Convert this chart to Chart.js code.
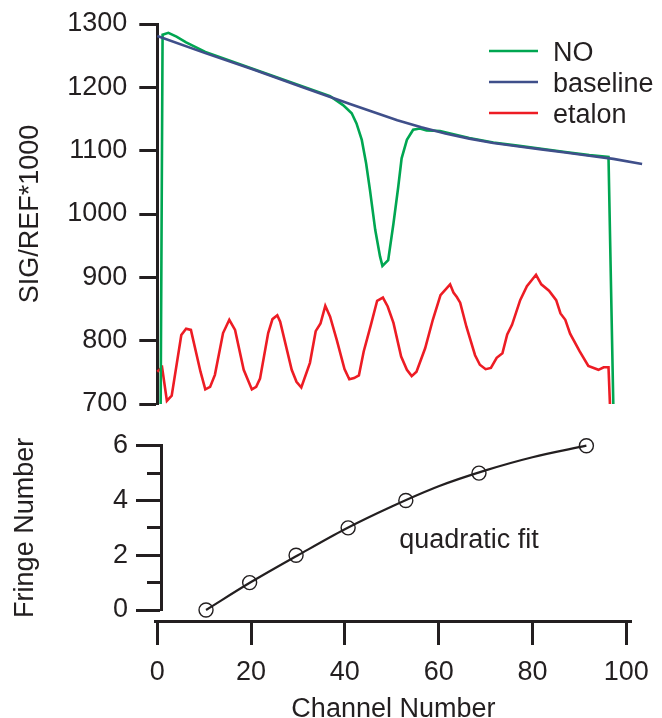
<!DOCTYPE html>
<html>
<head>
<meta charset="utf-8">
<script src="https://cdn.jsdelivr.net/npm/chart.js@4.4.1/dist/chart.umd.min.js"></script>
<style>
  html, body { margin: 0; padding: 0; background: #fff; }
  #wrap { position: relative; width: 662px; height: 718px; }
  #topChart { position: absolute; left: 0; top: 0; }
  #bottomChart { position: absolute; left: 0; top: 420px; }
</style>
</head>
<body>
<div id="wrap">
  <canvas id="topChart" width="662" height="420"></canvas>
  <canvas id="bottomChart" width="662" height="298"></canvas>
</div>
<script>
// upper panel: signal / reference ratio
const noChannel = [0.7, 1.1, 2.3, 4, 6, 10, 20, 30, 36, 38.7, 40.5, 41.5, 42.6, 43.5, 44.3, 45.4, 46.4, 46.9, 48.1, 49.2, 50.2, 50.9, 52, 53.3, 54.7, 56.1, 58.9, 65, 70, 75, 80, 85, 90, 94, 95];
const noSignal = [700, 1283, 1286, 1280, 1271, 1256, 1229, 1202, 1186, 1172, 1159, 1143, 1117, 1080, 1038, 975, 933, 918, 927, 985, 1043, 1088, 1117, 1133, 1135, 1132, 1131, 1120, 1113, 1108, 1103, 1098, 1093, 1090, 700];

const baseChannel = [0, 10, 20, 30, 40, 45, 50, 55, 60, 65, 70, 75, 80, 85, 90, 95, 101];
const baseSignal = [1281, 1254, 1228, 1201, 1174, 1161, 1148, 1137, 1127, 1119, 1112, 1107, 1102, 1097, 1092, 1087, 1079];

const etalonChannel = [0, 1, 2, 3, 5, 6, 7, 9, 10, 11, 12, 13.7, 15, 16.2, 18, 19.7, 20.6, 21.4, 23.1, 24, 25, 25.6, 28, 29, 30, 31.8, 33, 34, 35, 36, 37.4, 39, 40, 41, 42, 43, 44.5, 45.8, 47, 48, 49.2, 50.8, 52, 53, 54, 55.8, 57.4, 59, 61, 61.7, 62.4, 63.1, 64.4, 66.2, 67.2, 68.4, 69.5, 70.7, 71.9, 72.9, 73.9, 75.6, 77, 78.9, 80, 81.6, 83.1, 84, 85, 86, 88, 89.8, 91.9, 93, 94, 94.3];
const etalonSignal = [751, 758, 705, 713, 809, 819, 817, 751, 723, 727, 746, 812, 833, 817, 754, 723, 727, 740, 812, 834, 840, 830, 754, 735, 726, 765, 815, 827, 855, 838, 801, 755, 739, 741, 745, 783, 825, 863, 868, 854, 828, 775, 754, 744, 751, 788, 833, 872, 889, 876, 869, 860, 822, 777, 762, 755, 757, 773, 780, 810, 825, 864, 886, 904, 889, 879, 864, 843, 833, 811, 783, 760, 754, 758, 758, 700];

const sigTicks = [700, 800, 900, 1000, 1100, 1200, 1300];

// lower panel: fringe positions and the fit
const fringeChannel = [10.4, 19.7, 29.6, 40.7, 53.0, 68.6, 91.5];
const fringeNumber = [0, 1, 2, 3, 4, 5, 6];
const fitChannel = [10.4, 20, 30, 40, 50, 60, 70, 80, 91.5];
const fitNumber = [0, 1.02, 2.0, 2.95, 3.78, 4.52, 5.1, 5.58, 6.0];

const channelTicks = [0, 20, 40, 60, 80, 100];
const fringeTicks = [0, 2, 4, 6];
const fringeMinorTicks = [1, 3, 5];

const ink = '#231f20';
const fontFamily = "'Liberation Sans', Arial, sans-serif";
const font = { family: fontFamily, size: 27 };
Chart.defaults.font.family = fontFamily;
Chart.defaults.color = ink;

const toPoints = (xs, ys) => xs.map((x, i) => ({ x: x, y: ys[i] }));
const fixTicks = (values) => (scale) => { scale.ticks = values.map(v => ({ value: v })); };
const plain = (v) => String(v);

// legend in the upper right corner
const sideLegend = {
  id: 'sideLegend',
  afterDatasetsDraw(chart) {
    const ctx = chart.ctx;
    ctx.save();
    ctx.font = '27px ' + fontFamily;
    ctx.fillStyle = ink;
    ctx.textBaseline = 'alphabetic';
    chart.data.datasets.forEach((ds, i) => {
      const y = 51 + i * 31;
      ctx.strokeStyle = ds.borderColor;
      ctx.lineWidth = 2.6;
      ctx.beginPath();
      ctx.moveTo(489, y);
      ctx.lineTo(538, y);
      ctx.stroke();
      ctx.fillText(ds.label, 553, y + 10);
    });
    ctx.restore();
  }
};

new Chart(document.getElementById('topChart'), {
  type: 'line',
  data: {
    datasets: [
      { label: 'NO', data: toPoints(noChannel, noSignal), borderColor: '#00a651', order: 1, clip: false },
      { label: 'baseline', data: toPoints(baseChannel, baseSignal), borderColor: '#3f4f8a', order: 0, clip: false },
      { label: 'etalon', data: toPoints(etalonChannel, etalonSignal), borderColor: '#ed1c24', order: 2, clip: false }
    ]
  },
  options: {
    responsive: false,
    animation: false,
    devicePixelRatio: 1,
    layout: { padding: { top: 24, bottom: 16, left: 0, right: 19.9 } },
    elements: {
      point: { radius: 0 },
      line: { tension: 0, borderWidth: 2.6, fill: false }
    },
    plugins: { legend: { display: false }, tooltip: { enabled: false } },
    scales: {
      x: { type: 'linear', display: false, min: 0, max: 101 },
      y: {
        type: 'linear',
        position: 'left',
        min: 700,
        max: 1300,
        afterBuildTicks: fixTicks(sigTicks),
        afterFit: (s) => { s.width = 157.3; s.paddingTop = 0; s.paddingBottom = 0; },
        grid: { drawOnChartArea: false, tickLength: 18, tickWidth: 3, tickColor: ink },
        border: { width: 3, color: ink },
        ticks: { padding: 12, font: font, color: ink, callback: plain },
        title: { display: true, text: 'SIG/REF*1000', font: font, color: ink, padding: { top: 14, bottom: 0 } }
      }
    }
  },
  plugins: [sideLegend]
});

// "quadratic fit" note, placed in data units
const fitNote = {
  id: 'fitNote',
  afterDraw(chart) {
    const ctx = chart.ctx;
    const x = chart.scales.x.getPixelForValue(51.6);
    const y = chart.scales.y.getPixelForValue(2.26);
    ctx.save();
    ctx.font = '27px ' + fontFamily;
    ctx.fillStyle = ink;
    ctx.textBaseline = 'alphabetic';
    ctx.fillText('quadratic fit', x, y);
    ctx.restore();
  }
};

new Chart(document.getElementById('bottomChart'), {
  type: 'line',
  data: {
    datasets: [
      {
        label: 'fringes',
        data: toPoints(fringeChannel, fringeNumber),
        showLine: false,
        pointRadius: 7,
        pointBorderWidth: 1.4,
        pointBorderColor: ink,
        pointBackgroundColor: 'rgba(0,0,0,0)',
        clip: false,
        order: 0
      },
      {
        label: 'quadratic fit',
        data: toPoints(fitChannel, fitNumber),
        borderColor: ink,
        borderWidth: 2.2,
        pointRadius: 0,
        cubicInterpolationMode: 'monotone',
        clip: false,
        order: 1
      }
    ]
  },
  options: {
    responsive: false,
    animation: false,
    devicePixelRatio: 1,
    layout: { padding: { top: 25.7, bottom: 108, left: 0, right: 19 } },
    plugins: { legend: { display: false }, tooltip: { enabled: false } },
    scales: {
      x: {
        type: 'linear',
        min: -0.479,
        max: 101.19,
        position: { y: -0.43 },
        afterBuildTicks: fixTicks(channelTicks),
        grid: { drawOnChartArea: false, tickLength: 22, tickWidth: 3, tickColor: ink },
        border: { width: 3, color: ink },
        ticks: { padding: 13, font: font, color: ink, maxRotation: 0, callback: plain },
        title: { display: true, text: 'Channel Number', font: font, color: ink, padding: { top: 0, bottom: -22 } }
      },
      y: {
        type: 'linear',
        position: 'left',
        min: 0,
        max: 6,
        afterBuildTicks: fixTicks(fringeTicks),
        afterFit: (s) => { s.width = 155; s.paddingTop = 0; s.paddingBottom = 0; },
        grid: { display: false, drawTicks: false },
        border: { display: false },
        ticks: { padding: 27, font: font, color: ink, callback: plain },
        title: { display: true, text: 'Fringe Number', font: font, color: ink, padding: { top: 9, bottom: 0 } }
      },
      yMajor: {
        axis: 'y',
        type: 'linear',
        min: 0,
        max: 6,
        position: { x: 0.9 },
        afterBuildTicks: fixTicks(fringeTicks),
        grid: { drawOnChartArea: false, tickLength: 24, tickWidth: 3, tickColor: ink },
        border: { width: 3, color: ink },
        ticks: { display: false }
      },
      yMinor: {
        axis: 'y',
        type: 'linear',
        min: 0,
        max: 6,
        position: { x: 0.9 },
        afterBuildTicks: fixTicks(fringeMinorTicks),
        grid: { drawOnChartArea: false, tickLength: 14, tickWidth: 3, tickColor: ink },
        border: { display: false },
        ticks: { display: false }
      }
    }
  },
  plugins: [fitNote]
});
</script>
</body>
</html>
